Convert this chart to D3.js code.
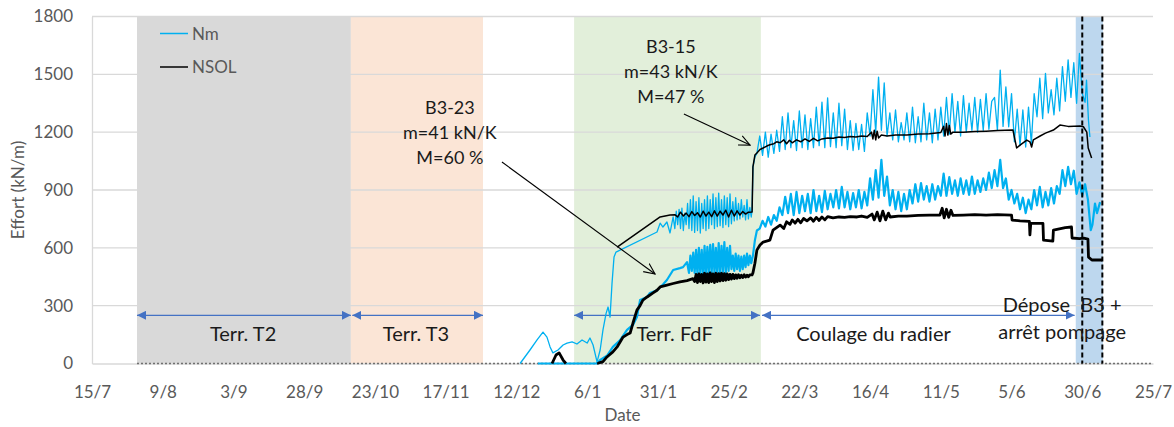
<!DOCTYPE html>
<html><head><meta charset="utf-8">
<script src="https://cdn.jsdelivr.net/npm/d3@7"></script>
<style>
body{margin:0;background:#fff}
svg{display:block}
text{font-family:Lato,"Open Sans",sans-serif}
</style>
</head><body>
<svg id="chart" width="1174" height="427"></svg>
<script>
// ---------------- DATA (day = days since 15/7/2018) ----------------
const startDate = "2018-07-15";
const endDay = 375;
const xTickDates = ["2018-07-15","2018-08-09","2018-09-03","2018-09-28","2018-10-23","2018-11-17","2018-12-12","2019-01-06","2019-01-31","2019-02-25","2019-03-22","2019-04-16","2019-05-11","2019-06-05","2019-06-30","2019-07-25"];
const yTicks = [0,300,600,900,1200,1500,1800];
const seriesNames = ["Nm","NSOL"];

// background phases [startDay, endDay]
const bandDays = [[15.9,91.5],[91.5,138.2],[170.4,236.4],[347.7,357.3]];
const bandColors = ["#d9d9d9","#fbe5d6","#e2efda","#bdd7ee"];
const dashedDays = [350.0, 357.1];

// phase arrows at value 250
const phaseLabels = ["Terr. T2","Terr. T3","Terr. FdF","Coulage du radier"];
const phaseArrowDays = [[15.9,91.5],[92.0,138.2],[170.4,236.1],[236.8,347.3]];
const phaseArrowValue = 250;
const phaseLabelDays = [53.4,114.5,205.9,276.2];

// B3-15 : Nm (upper blue)
const nmB315 = [[151.3,0],[154.8,70],[157.3,122],[159.4,163],[160.8,137],[161.9,86],[162.9,55],[164.7,70],[166.5,96],[167.9,106],[169.7,112],[171.4,101],[173.2,122],[175.0,106],[176.0,132],[177.1,96],[178.5,8],[179.6,70],[180.6,174],[181.7,260],[182.4,293],[183.1,241],[183.8,417],[184.5,552],[185.2,578],[199.7,682],[200.8,728],[201.8,708],[203.2,734],[204.3,677],[205.4,760],
[206.0,700],[206.5,790],[207.0,720],[207.5,800],[208.0,700],[208.5,806],[209.0,690],[209.5,780],[210.0,720],[210.5,830],[211.0,700],[211.5,850],[212.0,690],[212.5,870],[213.0,680],[213.5,840],[214.0,690],[214.5,860],[215.0,677],[215.5,830],[216.0,700],[216.5,850],[217.0,690],[217.5,870],[218.0,700],[218.5,850],[219.0,720],[219.5,880],[220.0,700],[220.5,860],[221.0,710],[221.5,884],[222.0,715],[222.5,850],[223.0,705],[223.5,870],[224.0,720],[224.5,860],[225.0,710],[225.5,880],[226.0,725],[226.5,840],[227.0,740],[227.5,860],[228.0,745],[228.5,830],[229.0,750],[229.5,850],[230.0,760],[230.5,820],[231.0,745],[231.5,850],[232.0,750],[232.5,810],[233.0,760],[233.3,796],[233.6,1020],[234.3,1071],[235.0,1090],
[236,1180],[237,1080],[238,1200],[239,1070],[240,1190],[241,1090],[242,1210],[243,1100],[244,1280],[245,1110],[246,1300],[247,1120],[248,1260],[249,1105],[250,1310],[251,1120],[252,1290],[253,1110],[254,1270],[255,1120],[256,1330],[257,1130],[258,1356],[259,1120],[260,1378],[261,1125],[262,1300],[263,1120],[264,1350],[265,1130],[266,1320],[267,1110],[268,1260],[269,1105],[270,1245],[271,1110],[272,1240],[273,1100],[274,1300],[275,1180],[276,1420],[277,1200],[278,1486],[279,1210],[280,1455],[281,1180],[282,1300],[283,1160],[284,1315],[285,1150],[286,1250],[287,1160],[288,1300],[289,1150],[290,1330],[291,1145],[292,1280],[293,1150],[294,1350],[295,1160],[296,1300],[297,1145],[298,1320],[299,1160],[300,1330],[301,1180],[302,1380],[303,1190],[304,1400],[305,1200],[306,1360],[307,1180],[308,1390],[309,1200],[310,1350],[311,1210],[312,1380],[313,1200],[314,1370],[315,1210],[316,1400],[317,1215],[318,1360],[319,1380],[320,1210],[321,1522],[322,1230],[323,1435],[324,1228],[325,1400],[326,1150],[327,1320],[328,1130],[329,1315],[330,1123],[331,1330],[332,1140],[333,1400],[334,1280],[335,1480],[336,1270],[337,1505],[338,1300],[339,1420],[340,1290],[341,1480],[342,1310],[343,1540],[344,1360],[345,1575],[346,1380],[347,1560],[348,1350],[349,1608],[350,1400],[351,1355],[351.5,1470],[352.2,1260],[352.7,1175]];

// B3-15 : NSOL (upper black)
const nsolB315 = [[185.6,604],[200.8,760],[204.3,770],[206,772],[207,760],[208,785],[209,765],[210,780],[211,762],[212,788],[213,768],[214,782],[215,760],[216,790],[217,765],[218,785],[219,762],[220,792],[221,765],[222,790],[223,770],[224,795],[225,760],[226,795],[227,765],[228,792],[229,770],[230,788],[231,775],[232,785],[233.3,786],[233.6,1020],[234.3,1081],[235.0,1092],[236.1,1110],[237.2,1118],[238.5,1128],[239.6,1135],[241,1140],[242,1150],[243.2,1145],[244.5,1160],[245.5,1140],[246.5,1158],[247.5,1145],[249,1160],[250.5,1150],[252,1165],[253.5,1152],[255,1168],[256.5,1155],[258,1165],[260,1170],[262,1168],[264,1175],[266,1172],[268,1178],[270,1175],[272,1180],[274,1178],[275.5,1200],[276,1165],[276.5,1210],[277,1160],[277.5,1205],[278,1170],[279,1185],[281,1180],[284,1185],[288,1185],[292,1190],[296,1192],[300,1198],[301,1230],[301.5,1180],[302,1245],[302.5,1185],[303,1235],[303.5,1190],[304.3,1200],[308,1200],[312,1203],[316,1205],[320,1208],[325.5,1211],[326.8,1118],[328,1133],[330.4,1159],[331.5,1150],[332.1,1123],[332.7,1160],[335.1,1180],[337,1195],[339.8,1211],[342.1,1237],[345,1230],[349.2,1232],[350.4,1228],[351.6,1200],[352.1,1118],[353.3,1066]];

// B3-23 : Nm (lower blue)
const nmB323 = [[157.6,0],[178.5,0],[179.6,18],[182.0,40],[184.1,86],[186.6,120],[189.1,174],[191.2,200],[192.6,241],[193.7,329],[196.2,345],[197.2,366],[199.7,380],[201.8,410],[203.2,433],[205.4,485],[207.8,495],[208.9,500],[210.3,526],
[211.0,470],[211.5,560],[212.0,480],[212.5,575],[213.0,470],[213.5,590],[214.0,460],[214.5,600],[215.0,470],[215.5,590],[216.0,455],[216.5,610],[217.0,460],[217.5,605],[218.0,470],[218.5,615],[219.0,465],[219.5,620],[220.0,470],[220.5,600],[221.0,460],[221.5,625],[222.0,470],[222.5,610],[223.0,475],[223.5,630],[224.0,470],[224.5,600],[225.0,480],[225.5,610],[226.0,490],[226.5,560],[227.0,480],[227.5,570],[228.0,490],[228.5,560],[229.0,480],[229.5,555],[230.0,490],[230.5,560],[231.0,500],[231.5,570],[232.0,510],[232.5,560],[233.0,520],[233.6,560],[234.3,640],[235.0,690],
[236,700],[237,740],[238,710],[239,760],[240,720],[241,770],[242,740],[243,810],[244,770],[245,865],[246,780],[247,880],[248,770],[249,890],[250,780],[251,870],[252,790],[253,880],[254,780],[255,900],[256,790],[257,870],[258,785],[259,895],[260,800],[261,880],[262,810],[263,900],[264,805],[265,916],[266,810],[267,890],[268,800],[269,884],[270,810],[271,900],[272,805],[273,890],[274,820],[275,960],[276,850],[277,1003],[278,860],[279,1056],[280,870],[281,970],[282,820],[283,900],[284,800],[285,890],[286,790],[287,880],[288,800],[289,900],[290,830],[291,930],[292,840],[293,936],[294,850],[295,920],[296,840],[297,930],[298,850],[299,920],[300,870],[301,985],[302,870],[303,967],[304,880],[305,950],[306,870],[307,960],[308,880],[309,950],[310,875],[311,970],[312,880],[313,950],[314,890],[315,960],[316,900],[317,990],[318,910],[319,1003],[320,920],[321,1056],[322,910],[323,960],[324,850],[325,900],[326,830],[327,880],[328,800],[329,860],[330,780],[331,850],[332,800],[333,900],[334,820],[335,916],[336,810],[337,890],[338,820],[339,910],[340,830],[341,920],[342,880],[343,1003],[344,920],[345,1020],[346,930],[347,1000],[348,880],[349,940],[350,870],[351,930],[352,850],[353.0,692],[353.6,720],[354.5,830],[355.2,780],[356.3,837]];

// B3-23 : NSOL (lower black) ; null = no data
const nsolB323 = [[162.6,0],[164.0,44],[165.1,55],[166.5,18],[167.5,0],[172,null],[178.5,0],[180.6,10],[182.0,34],[184.1,60],[185.6,86],[186.6,110],[187.7,137],[189.1,150],[190.2,158],[191.2,210],[192.6,277],[193.7,300],[194.7,329],[196.2,345],[198.3,366],[199.7,380],[200.8,397],[203.2,407],[205.4,415],[207.8,423],[210.3,430],[212.4,440],
[213.0,425],[213.5,462],[214.0,420],[214.5,465],[215.0,425],[215.5,462],[216.0,418],[216.5,468],[217.0,422],[217.5,465],[218.0,420],[218.5,470],[219.0,425],[219.5,465],[220.0,420],[220.5,468],[221.0,425],[221.5,466],[222.0,428],[222.5,468],[223.0,430],[223.5,466],[224.0,432],[224.5,465],[225.0,435],[225.5,462],[226.0,438],[226.5,462],[227.0,440],[227.5,460],[228.0,442],[228.5,460],[229.0,445],[229.5,458],[230.0,446],[230.5,460],[231.0,448],[231.5,458],[232.0,450],[232.5,460],[233.3,460],[233.6,470],[234.3,520],[235.0,588],[236.1,615],[237.2,630],[239.6,640],[240.7,692],[243.2,718],[244.5,700],[245.5,735],[246.7,722],[247.5,745],[248.5,728],[249.5,748],[250.5,730],[251.5,752],[252.7,740],[254,755],[255,738],[256,758],[257,742],[258,760],[259,745],[260,762],[261.9,755],[264,760],[266,758],[268,762],[270.4,760],[272,765],[274,758],[275.7,775],[276.5,745],[277.5,785],[278.5,740],[279.5,790],[280.5,745],[281.5,780],[282.1,760],[285,765],[288,765],[292,768],[296,770],[299.7,770],[300.5,805],[301.2,755],[302,800],[302.8,758],[303.6,795],[304.3,768],[308,770],[312,772],[316,770],[320,772],[325.0,770],[325.2,744],[328,740],[331.3,737],[331.5,667],[331.8,727],[336.1,727],[336.3,640],[339.6,635],[339.8,692],[344,705],[346.2,708],[346.4,651],[349,648],[350.5,650],[352.0,645],[352.2,552],[353.4,537],[357.0,537]];

// annotations: text lines, anchor (day,value), arrow from/to (day,value)
const annB323 = ["B3-23","m=41 kN/K","M=60 %"];
const annB315 = ["B3-15","m=43 kN/K","M=47 %"];
const annAnchors = [[126.5,1295],[204.6,1610]];
const annArrows = [[[144.9,1045],[199.0,464]],[[209.2,1294],[232.6,1133]]];
const endLabel = ["Dépose  B3 +","arrêt pompage"];
const endLabelAnchor = [342.9,300];

// ---------------- DRAW ----------------
const t0 = Date.parse(startDate + "T00:00:00Z");
const toDate = d => new Date(t0 + d*864e5);
const L = 92, R = 1153, T = 16.5, B = 363.5;
const svg = d3.select("#chart");
const x = d3.scaleUtc().domain([toDate(0), toDate(endDay)]).range([L, R]);
const y = d3.scaleLinear().domain([0,1800]).range([B, T]);

const defs = svg.append("defs");
defs.append("marker").attr("id","blueHead").attr("viewBox","0 0 10 10").attr("refX",10).attr("refY",5)
  .attr("markerWidth",9).attr("markerHeight",9).attr("markerUnits","userSpaceOnUse").attr("orient","auto-start-reverse")
  .append("path").attr("d","M0,0L10,5L0,10Z").attr("fill","#4472c4");
defs.append("marker").attr("id","openHead").attr("viewBox","0 0 12 12").attr("refX",11).attr("refY",6)
  .attr("markerWidth",12).attr("markerHeight",12).attr("markerUnits","userSpaceOnUse").attr("orient","auto")
  .append("path").attr("d","M0,1L11,6L0,11").attr("fill","none").attr("stroke","#000").attr("stroke-width",1.1);

// bands
svg.append("g").selectAll("rect").data(bandDays).join("rect")
  .attr("x", d => x(toDate(d[0]))).attr("width", d => x(toDate(d[1])) - x(toDate(d[0])))
  .attr("y", y(1800)).attr("height", y(0) - y(1800))
  .attr("fill", (d,i) => bandColors[i]);

// gridlines
svg.append("g").selectAll("line").data(yTicks.filter(v => v > 0)).join("line")
  .attr("x1", L).attr("x2", R).attr("y1", d => y(d)).attr("y2", d => y(d))
  .attr("stroke","#d9d9d9").attr("stroke-width",1.3);

// axes
const yAxis = svg.append("g").attr("transform",`translate(${L},0)`)
  .call(d3.axisLeft(y).tickValues(yTicks).tickFormat(d3.format("d")).tickSize(0).tickPadding(19));
yAxis.select(".domain").attr("stroke","#d9d9d9").attr("stroke-width",1.3);
yAxis.selectAll("text").attr("fill","#595959").style("font-size","17px");

const xAxis = svg.append("g").attr("transform",`translate(0,${B})`)
  .call(d3.axisBottom(x).tickValues(xTickDates.map(s => new Date(s+"T00:00:00Z")))
  .tickFormat(d3.utcFormat("%-d/%-m")).tickSize(0).tickPadding(22));
xAxis.select(".domain").attr("stroke","#d9d9d9").attr("stroke-width",1.3);
xAxis.selectAll("text").attr("fill","#595959").style("font-size","17px");

// dotted zero line
svg.append("line").attr("x1", x(toDate(bandDays[0][0]))).attr("x2", R).attr("y1", y(0)).attr("y2", y(0))
  .attr("stroke","#6f6f6f").attr("stroke-width",1.5).attr("stroke-dasharray","2,2");

// axis titles
svg.append("text").attr("transform",`translate(24,${(T+B)/2}) rotate(-90)`).attr("text-anchor","middle")
  .attr("fill","#595959").style("font-size","17px").text("Effort (kN/m)");
svg.append("text").attr("x",(L+R)/2).attr("y",421).attr("text-anchor","middle")
  .attr("fill","#595959").style("font-size","17px").text("Date");

// phase arrows
svg.append("g").selectAll("line").data(phaseArrowDays).join("line")
  .attr("x1", d => x(toDate(d[0]))).attr("x2", d => x(toDate(d[1])))
  .attr("y1", y(phaseArrowValue)).attr("y2", y(phaseArrowValue))
  .attr("stroke","#4472c4").attr("stroke-width",1.2)
  .attr("marker-start","url(#blueHead)").attr("marker-end","url(#blueHead)");

// series
const line = d3.line().defined(d => d[1] !== null).x(d => x(toDate(d[0]))).y(d => y(d[1]));
const series = [
  {data:nmB323, color:"#00b0f0", w:2.2},
  {data:nsolB323, color:"#000", w:2.8},
  {data:nmB315, color:"#00b0f0", w:1.3},
  {data:nsolB315, color:"#000", w:1.5}
];
svg.append("g").selectAll("path").data(series).join("path")
  .attr("d", d => line(d.data)).attr("fill","none")
  .attr("stroke", d => d.color).attr("stroke-width", d => d.w).attr("stroke-linejoin","round");

// phase labels
svg.append("g").selectAll("text").data(phaseLabels).join("text")
  .attr("x", (d,i) => x(toDate(phaseLabelDays[i]))).attr("y", 341)
  .attr("text-anchor","middle").attr("fill","#1a1a1a").style("font-size","20px").text(d => d);

// dashed verticals
svg.append("g").selectAll("line").data(dashedDays).join("line")
  .attr("x1", d => x(toDate(d))).attr("x2", d => x(toDate(d))).attr("y1", y(1800)).attr("y2", y(0))
  .attr("stroke","#000").attr("stroke-width",2).attr("stroke-dasharray","5,3");

// end label
svg.append("g").selectAll("text").data(endLabel).join("text")
  .attr("x", x(toDate(endLabelAnchor[0]))).attr("y", (d,i) => y(endLabelAnchor[1]) + 6 + i*27)
  .attr("text-anchor","middle").attr("fill","#1a1a1a").style("font-size","20px").style("white-space","pre").text(d => d);

// annotations
[annB323, annB315].forEach((lines, k) => {
  svg.append("g").selectAll("text").data(lines).join("text")
    .attr("x", x(toDate(annAnchors[k][0]))).attr("y", (d,i) => y(annAnchors[k][1]) + i*25)
    .attr("text-anchor","middle").attr("fill","#1a1a1a").style("font-size","18px").text(d => d);
  const a = annArrows[k];
  svg.append("line").attr("x1", x(toDate(a[0][0]))).attr("y1", y(a[0][1]))
    .attr("x2", x(toDate(a[1][0]))).attr("y2", y(a[1][1]))
    .attr("stroke","#000").attr("stroke-width",1.1).attr("marker-end","url(#openHead)");
});

// legend
const leg = svg.append("g").selectAll("g").data(seriesNames).join("g")
  .attr("transform",(d,i) => `translate(160,${33.5 + i*33.5})`);
leg.append("line").attr("x1",0).attr("x2",28).attr("stroke",(d,i)=> i===0 ? "#00b0f0" : "#000").attr("stroke-width",1.5);
leg.append("text").attr("x",32).attr("y",6).attr("fill","#595959").style("font-size","17px").text(d => d);
</script>
</body></html>
